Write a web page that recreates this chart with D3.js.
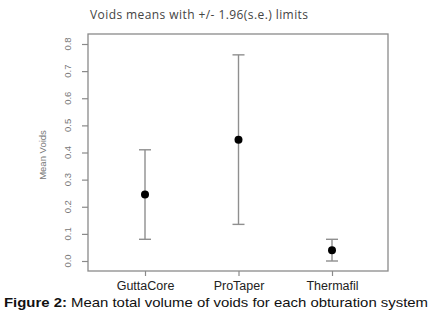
<!DOCTYPE html>
<html>
<head>
<meta charset="utf-8">
<script src="https://cdn.jsdelivr.net/npm/d3@7"></script>
<style>
body { margin: 0; background: #fff; }
svg { display: block; }
</style>
</head>
<body>
<div id="container"></div>
<script>
const systems = ['GuttaCore', 'ProTaper', 'Thermafil'];
const means = [0.245, 0.447, 0.04];
const upper = [0.41, 0.76, 0.08];
const lower = [0.08, 0.135, 0.0];
const yTicks = [0.0, 0.1, 0.2, 0.3, 0.4, 0.5, 0.6, 0.7, 0.8];

const W = 434, H = 315;
const box = {left: 88, right: 388, top: 34, bottom: 271};

const svg = d3.select('#container').append('svg')
	.attr('width', W)
	.attr('height', H);

const y = d3.scaleLinear().domain([0, 0.8]).range([261, 44]);
const x = d3.scalePoint().domain(systems).range([145, 332]);

const AXIS = '#8a8a8a';

// plot frame
svg.append('rect')
	.attr('x', box.left).attr('y', box.top)
	.attr('width', box.right - box.left).attr('height', box.bottom - box.top)
	.attr('fill', 'none').attr('stroke', AXIS).attr('stroke-width', 1.3);

// y axis (ticks out from the frame)
const yAxis = svg.append('g')
	.attr('transform', `translate(${box.left},0)`)
	.call(d3.axisLeft(y).tickValues(yTicks).tickSize(6).tickFormat(''));
yAxis.select('.domain').remove();
yAxis.selectAll('line').attr('stroke', AXIS).attr('stroke-width', 1.2);

svg.append('g').selectAll('text').data(yTicks).join('text')
	.attr('transform', d => `translate(71,${y(d)}) rotate(-90)`)
	.attr('text-anchor', 'middle')
	.attr('font-family', 'Liberation Sans, sans-serif')
	.attr('font-size', 9.5)
	.attr('fill', '#777')
	.text(d3.format('.1f'));

svg.append('text')
	.attr('transform', 'translate(46,155) rotate(-90)')
	.attr('text-anchor', 'middle')
	.attr('font-family', 'Liberation Sans, sans-serif')
	.attr('font-size', 9.5)
	.attr('fill', '#777')
	.text('Mean Voids');

// x axis
const xAxis = svg.append('g')
	.attr('transform', `translate(0,${box.bottom})`)
	.call(d3.axisBottom(x).tickSize(5).tickPadding(5));
xAxis.select('.domain').remove();
xAxis.selectAll('line').attr('stroke', AXIS).attr('stroke-width', 1.2);
xAxis.selectAll('text')
	.attr('font-family', 'Liberation Sans, sans-serif')
	.attr('font-size', 12.5)
	.attr('fill', '#222');

// error bars
const bars = svg.append('g').selectAll('g').data(systems).join('g')
	.attr('stroke', '#8f8f8f').attr('stroke-width', 1.4);
bars.append('line')
	.attr('x1', d => x(d)).attr('x2', d => x(d))
	.attr('y1', (d, i) => y(upper[i])).attr('y2', (d, i) => y(lower[i]));
bars.append('line')
	.attr('x1', d => x(d) - 6).attr('x2', d => x(d) + 6)
	.attr('y1', (d, i) => y(upper[i])).attr('y2', (d, i) => y(upper[i]));
bars.append('line')
	.attr('x1', d => x(d) - 6).attr('x2', d => x(d) + 6)
	.attr('y1', (d, i) => y(lower[i])).attr('y2', (d, i) => y(lower[i]));

svg.append('g').selectAll('circle').data(systems).join('circle')
	.attr('cx', d => x(d))
	.attr('cy', (d, i) => y(means[i]))
	.attr('r', 4)
	.attr('fill', '#000');

// title
svg.append('text')
	.attr('x', 90).attr('y', 19)
	.attr('font-family', 'Open Sans, sans-serif')
	.attr('font-size', 12)
	.attr('fill', '#444')
	.attr('textLength', 218)
	.text('Voids means with +/- 1.96(s.e.) limits');

// caption
const cap = svg.append('text')
	.attr('x', 4).attr('y', 307)
	.attr('font-family', 'Liberation Sans, sans-serif')
	.attr('font-size', 13)
	.attr('fill', '#111')
	.attr('textLength', 424)
	.attr('lengthAdjust', 'spacingAndGlyphs');
cap.append('tspan').attr('font-weight', 'bold').text('Figure 2:');
cap.append('tspan').text(' Mean total volume of voids for each obturation system');
</script>
</body>
</html>
